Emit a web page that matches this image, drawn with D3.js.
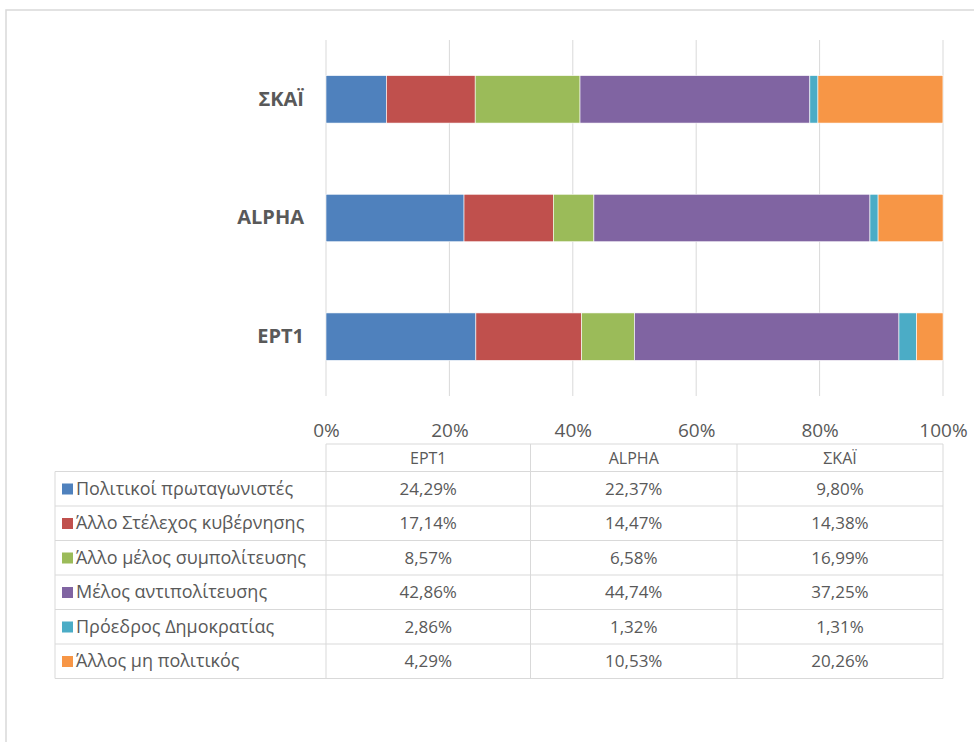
<!DOCTYPE html>
<html>
<head>
<meta charset="utf-8">
<script src="https://cdn.jsdelivr.net/npm/d3@7"></script>
<style>
body { margin: 0; background: #fff; }
text { font-family: "Open Sans", sans-serif; fill: #595959; }
</style>
</head>
<body>
<svg></svg>
<script>
// κανάλια (από πάνω προς τα κάτω στο γράφημα)
const channels = ["ΣΚΑΪ", "ALPHA", "EPT1"];
// σειρά στηλών στον πίνακα
const tableChannels = ["EPT1", "ALPHA", "ΣΚΑΪ"];
const seriesNames = [
    "Πολιτικοί πρωταγωνιστές",
    "Άλλο Στέλεχος κυβέρνησης",
    "Άλλο μέλος συμπολίτευσης",
    "Μέλος αντιπολίτευσης",
    "Πρόεδρος Δημοκρατίας",
    "Άλλος μη πολιτικός"
];
const colors = ["#4F81BD", "#C0504D", "#9BBB59", "#8064A2", "#4BACC6", "#F79646"];
// τιμές ανά κανάλι, με τη σειρά των seriesNames
const valuesEPT1 = [24.29, 17.14, 8.57, 42.86, 2.86, 4.29];
const valuesALPHA = [22.37, 14.47, 6.58, 44.74, 1.32, 10.53];
const valuesSKAI = [9.80, 14.38, 16.99, 37.25, 1.31, 20.26];
const ticks = [0, 0.2, 0.4, 0.6, 0.8, 1];

const valuesBy = { "EPT1": valuesEPT1, "ALPHA": valuesALPHA, "ΣΚΑΪ": valuesSKAI };

const width = 974, height = 742;
const svg = d3.select("svg").attr("width", width).attr("height", height);

// εξωτερικό πλαίσιο
svg.append("rect")
    .attr("x", 6).attr("y", 10)
    .attr("width", width + 20).attr("height", height + 20)
    .attr("fill", "none").attr("stroke", "#d9d9d9").attr("stroke-width", 1.5);

const scaleX = d3.scaleLinear().domain([0, 1]).range([326, 943]);
const scaleY = d3.scaleBand().domain(channels).range([40, 396])
    .paddingInner(0.6).paddingOuter(0.3);

// γραμμές πλέγματος
svg.append("g").selectAll("line")
    .data(ticks).enter().append("line")
    .attr("x1", d => scaleX(d)).attr("x2", d => scaleX(d))
    .attr("y1", 40).attr("y2", 396)
    .attr("stroke", "#d9d9d9").attr("stroke-width", 1);

// στοιβαγμένες μπάρες
const rows = channels.map(c => {
    const o = { channel: c };
    seriesNames.forEach((s, i) => o[s] = valuesBy[c][i] / 100);
    return o;
});
const stacked = d3.stack().keys(seriesNames)(rows);

svg.append("g").selectAll("g")
    .data(stacked).enter().append("g")
    .attr("fill", (d, i) => colors[i])
    .selectAll("rect")
    .data(d => d).enter().append("rect")
    .attr("x", d => scaleX(d[0]))
    .attr("width", d => scaleX(d[1]) - scaleX(d[0]))
    .attr("y", d => scaleY(d.data.channel))
    .attr("height", scaleY.bandwidth())
    .attr("stroke", "#fff").attr("stroke-width", 0.6);

// ετικέτες καναλιών
const axisY = d3.axisLeft(scaleY).tickSize(0).tickPadding(22);
const gy = svg.append("g").attr("transform", "translate(326,0)").call(axisY);
gy.select(".domain").remove();
gy.selectAll("text")
    .style("font-size", "20px").style("font-weight", "bold")
    .attr("fill", "#595959");

// άξονας x
const axisX = d3.axisBottom(scaleX).tickValues(ticks).tickFormat(d3.format(".0%")).tickSize(0).tickPadding(20);
const gx = svg.append("g").attr("transform", "translate(0,404)").call(axisX);
gx.select(".domain").remove();
gx.selectAll("text").style("font-size", "19px").attr("fill", "#595959");

// πίνακας δεδομένων
const locale = d3.formatLocale({ decimal: ",", thousands: ".", grouping: [3], currency: ["", "€"] });
const fmt = locale.format(".2f");

const colEdges = [55, 326, 530.5, 737, 943];
const headTop = 444, rowH = 34.5;
const rowTops = d3.range(seriesNames.length + 1).map(i => headTop + 27.5 + i * rowH);

const table = svg.append("g");
const lineColor = "#d9d9d9";
// οριζόντιες γραμμές
table.append("line").attr("x1", 326).attr("x2", 943).attr("y1", headTop).attr("y2", headTop)
    .attr("stroke", lineColor);
table.selectAll(".hline").data(rowTops).enter().append("line")
    .attr("x1", 55).attr("x2", 943)
    .attr("y1", d => d).attr("y2", d => d)
    .attr("stroke", lineColor);
// κάθετες γραμμές
table.selectAll(".vline").data(colEdges).enter().append("line")
    .attr("x1", d => d).attr("x2", d => d)
    .attr("y1", (d, i) => i === 0 ? rowTops[0] : headTop)
    .attr("y2", rowTops[rowTops.length - 1])
    .attr("stroke", lineColor);

// επικεφαλίδες
table.selectAll(".head").data(tableChannels).enter().append("text")
    .attr("x", (d, i) => (colEdges[i + 1] + colEdges[i + 2]) / 2)
    .attr("y", headTop + 20)
    .attr("text-anchor", "middle")
    .style("font-size", "16px")
    .text(d => d);

seriesNames.forEach((s, i) => {
    const top = rowTops[i];
    table.append("rect")
        .attr("x", 62).attr("y", top + 12)
        .attr("width", 11).attr("height", 11)
        .attr("fill", colors[i]);
    table.append("text")
        .attr("x", 76).attr("y", top + 23)
        .style("font-size", "18px")
        .text(s);
    tableChannels.forEach((c, j) => {
        table.append("text")
            .attr("x", (colEdges[j + 1] + colEdges[j + 2]) / 2)
            .attr("y", top + 23)
            .attr("text-anchor", "middle")
            .style("font-size", "17px")
            .text(fmt(valuesBy[c][i]) + "%");
    });
});
</script>
</body>
</html>
